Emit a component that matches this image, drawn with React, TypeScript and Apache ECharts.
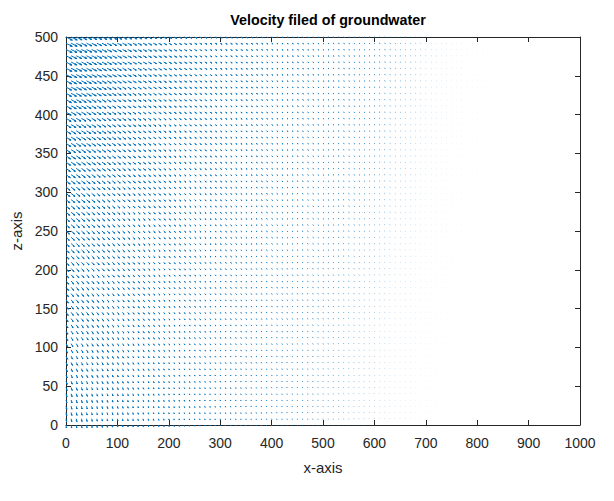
import React, { useEffect, useRef } from "react";
import * as echarts from "echarts";

// Quiver grid: columns every 10 m along x, 63 rows spread over 0..500 m in z
const X_STEP = 10;
const X_COLUMNS = 101;
const Z_ROWS = 63;
const Z_TOP = 500;

// Relative strength of the flow in each column (x = 0, 10, ..., 1000)
const amplitudeByColumn = [
  1.0, 0.96, 0.92, 0.89, 0.85, 0.82, 0.79, 0.76, 0.73, 0.7,
  0.67, 0.64, 0.62, 0.59, 0.57, 0.55, 0.53, 0.51, 0.49, 0.47,
  0.45, 0.43, 0.41, 0.4, 0.38, 0.37, 0.35, 0.34, 0.33, 0.31,
  0.3, 0.29, 0.28, 0.27, 0.26, 0.25, 0.24, 0.23, 0.22, 0.21,
  0.2, 0.19, 0.19, 0.18, 0.17, 0.17, 0.16, 0.15, 0.15, 0.14,
  0.135, 0.13, 0.125, 0.12, 0.115, 0.11, 0.105, 0.1, 0.095, 0.09,
  0.085, 0.08, 0.075, 0.07, 0.065, 0.06, 0.056, 0.052, 0.048, 0.044,
  0.04, 0.037, 0.034, 0.031, 0.028, 0.026, 0.024, 0.022, 0.02, 0.018,
  0.016, 0.015, 0.014, 0.013, 0.012, 0.011, 0.01, 0.009, 0.008, 0.0075,
  0.007, 0.0065, 0.006, 0.0055, 0.005, 0.0045, 0.004, 0.004, 0.0035, 0.003,
  0.003,
];

// Horizontal velocity component for each row, bottom to top (x units)
const horizontalByRow = [
  1.0, 1.2, 1.4, 1.5, 1.7, 1.9, 2.1, 2.3, 2.5, 2.6,
  2.8, 3.0, 3.2, 3.4, 3.5, 3.7, 3.9, 4.1, 4.3, 4.5,
  4.6, 4.8, 5.0, 5.2, 5.4, 5.6, 5.7, 5.9, 6.1, 6.3,
  6.5, 6.6, 6.8, 7.0, 7.2, 7.4, 7.6, 7.7, 7.9, 8.1,
  8.3, 8.5, 8.7, 8.8, 9.0, 9.2, 9.4, 9.6, 9.7, 9.9,
  10.1, 10.3, 10.5, 10.7, 10.8, 11.0, 11.2, 11.4, 11.6, 11.8,
  11.9, 12.1, 12.3,
];

// Downward velocity component (z units), same for every row
const VERTICAL_RATE = -3.9;

const xTicks = { min: 0, max: 1000, interval: 100 };
const zTicks = { min: 0, max: 500, interval: 50 };

const FONT = "'Liberation Sans', Arial, Helvetica, sans-serif";
const AXIS_COLOR = "#262626";
const ARROW_COLOR = "#0072BD";

function buildField(): number[][] {
  const rows: number[][] = [];
  for (let r = 0; r < Z_ROWS; r++) {
    const z = (Z_TOP * r) / (Z_ROWS - 1);
    for (let c = 0; c < X_COLUMNS; c++) {
      const x = c * X_STEP;
      const a = amplitudeByColumn[c];
      rows.push([x, z, a * horizontalByRow[r], a * VERTICAL_RATE]);
    }
  }
  return rows;
}

function renderArrow(params: any, api: any) {
  const x = api.value(0);
  const z = api.value(1);
  const u = api.value(2);
  const w = api.value(3);
  const p0 = api.coord([x, z]);
  const p1 = api.coord([x + u, z + w]);
  const dx = p1[0] - p0[0];
  const dy = p1[1] - p0[1];
  const len = Math.sqrt(dx * dx + dy * dy);
  const alpha = 0.33;
  const beta = 0.33;
  const bx = p1[0] - alpha * dx;
  const by = p1[1] - alpha * dy;
  const px = -dy * alpha * beta;
  const py = dx * alpha * beta;
  // sub-pixel arrows only cover part of a pixel, so they read as faint specks
  const coverage = Math.min(1, len / 0.5);
  return {
    type: "polyline",
    shape: {
      points: [p0, p1, [bx + px, by + py], p1, [bx - px, by - py]],
    },
    style: {
      stroke: ARROW_COLOR,
      fill: null,
      lineWidth: 1,
      lineCap: "butt",
      lineJoin: "bevel",
      opacity: coverage,
    },
    silent: true,
  };
}

function axisBase(extra: any) {
  return {
    type: "value",
    axisLine: { show: true, onZero: false, lineStyle: { color: AXIS_COLOR, width: 1 } },
    axisTick: { show: true, inside: true, length: 5, lineStyle: { color: AXIS_COLOR, width: 1 } },
    splitLine: { show: false },
    ...extra,
  };
}

export default function App() {
  const ref = useRef<HTMLDivElement>(null);

  useEffect(() => {
    if (!ref.current) return;
    const chart = echarts.init(ref.current, undefined, { renderer: "svg" });
    const labelStyle = { color: AXIS_COLOR, fontSize: 14, fontFamily: FONT };
    chart.setOption({
      animation: false,
      backgroundColor: "#ffffff",
      title: {
        text: "Velocity filed of groundwater",
        left: 323,
        top: 8,
        textAlign: "center",
        textStyle: { fontFamily: FONT, fontSize: 14.3, fontWeight: "bold", color: "#000000" },
      },
      grid: { left: 66, right: 34, top: 37, bottom: 76 },
      xAxis: [
        axisBase({
          ...xTicks,
          position: "bottom",
          name: "x-axis",
          nameLocation: "middle",
          nameGap: 35,
          nameTextStyle: { ...labelStyle, fontSize: 15 },
          axisLabel: { ...labelStyle, margin: 11, formatter: (v: number) => String(v) },
        }),
        axisBase({ ...xTicks, position: "top", axisLabel: { show: false } }),
      ],
      yAxis: [
        axisBase({
          ...zTicks,
          position: "left",
          name: "z-axis",
          nameLocation: "middle",
          nameGap: 40,
          nameTextStyle: { ...labelStyle, fontSize: 15 },
          axisLabel: { ...labelStyle, margin: 8, formatter: (v: number) => String(v) },
        }),
        axisBase({ ...zTicks, position: "right", axisLabel: { show: false } }),
      ],
      series: [
        {
          type: "custom",
          xAxisIndex: 0,
          yAxisIndex: 0,
          clip: true,
          renderItem: renderArrow,
          encode: { x: 0, y: 1 },
          data: buildField(),
        },
      ],
    });
    return () => chart.dispose();
  }, []);

  return (
    <div
      ref={ref}
      style={{ position: "fixed", left: 0, top: 0, width: 614, height: 501 }}
    />
  );
}
